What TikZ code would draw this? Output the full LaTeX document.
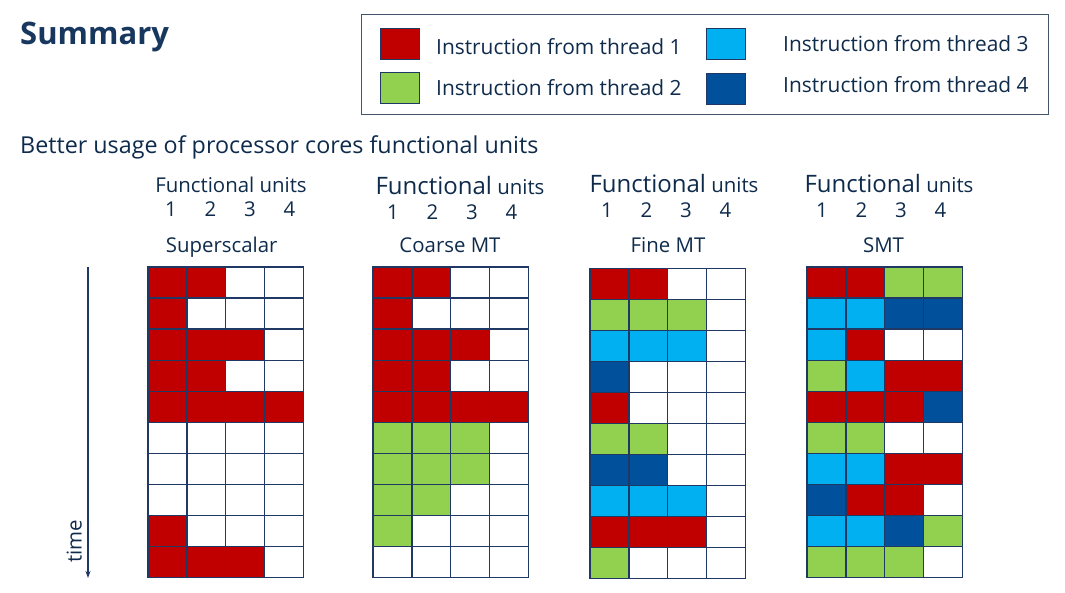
\documentclass[tikz,border=0pt]{standalone}
\usepackage{fontspec}
\setmainfont{Open Sans}
\usetikzlibrary{arrows.meta}

\definecolor{navytext}{HTML}{0F2B4C}
\definecolor{navytitle}{HTML}{17375E}
\definecolor{gridnavy}{HTML}{1F3864}
\definecolor{boxgray}{HTML}{44546A}
\definecolor{thr0}{HTML}{FFFFFF}
\definecolor{thr1}{HTML}{C00000}
\definecolor{thr2}{HTML}{92D050}
\definecolor{thr3}{HTML}{00B0F0}
\definecolor{thr4}{HTML}{00509B}

\tikzset{
  cellbox/.style={draw=gridnavy,line width=1.3pt},
  keybox/.style={draw=gridnavy,line width=1pt,minimum width=39pt,minimum height=31pt,inner sep=0pt},
  keytext/.style={anchor=base west,inner sep=0pt,text=navytext,font=\fontsize{20.9}{25}\selectfont},
  unittext/.style={anchor=base,inner sep=0pt,text=navytext,font=\fontsize{20.4}{24}\selectfont},
}

% one panel of functional units, rows from top to bottom (0 = idle)
\newcommand{\unitgrid}[3]{%
  \begin{scope}[shift={(#1,#2)}]
    \foreach \rowvals [count=\rw from 0] in {#3} {
      \foreach \v [count=\cl from 0] in \rowvals {
        \filldraw[cellbox,fill=thr\v] (\cl*38.9,\rw*31.05) rectangle ++(38.9,31.05);
      }
    }
  \end{scope}}

\begin{document}
\begin{tikzpicture}[x=1pt,y=-1pt]
\useasboundingbox (0,0) rectangle (1065,593);

\node[anchor=base west,inner sep=0pt,text=navytitle,font=\fontsize{31}{36}\selectfont\bfseries] (title) at (20,45) {Summary};
\node[anchor=base west,inner sep=0pt,text=navytext,font=\fontsize{23.3}{27}\selectfont] (intro) at (20,154) {Better usage of processor cores functional units};

% legend
\node[draw=boxgray,line width=1pt,minimum width=687pt,minimum height=100pt,inner sep=0pt] (legend) at (704.5,65) {};
\node[keybox,fill=thr1] (key1) at (399.5,44.5) {};
\node[keybox,fill=thr2] (key2) at (399.5,88) {};
\node[keybox,fill=thr3] (key3) at (726,44.5) {};
\node[keybox,fill=thr4] (key4) at (726,89) {};
\node[keytext] (keyt1) at (436,54.3) {Instruction from thread 1};
\node[keytext] (keyt2) at (436,96) {Instruction from thread 2};
\node[keytext] (keyt3) at (783,51.7) {Instruction from thread 3};
\node[keytext] (keyt4) at (783,92.3) {Instruction from thread 4};

% time axis
\coordinate (tstart) at (88,267);
\coordinate (tend) at (88,578);
\draw[gridnavy,line width=1.2pt,-{Stealth[length=7pt,width=5pt]}] (tstart) -- (tend);
\node[unittext,anchor=base west,rotate=90] (time) at (81.5,563) {time};

% headers
\node[unittext] (ssfu) at (231,192.7) {Functional units};
\node[unittext] (cmfu) at (460,195) {{\fontsize{24}{28}\selectfont Functional} units};
\node[unittext] (fmfu) at (674,192.7) {{\fontsize{24}{28}\selectfont Functional} units};
\node[unittext] (smfu) at (889,192.7) {{\fontsize{24}{28}\selectfont Functional} units};
\foreach \i in {1,...,4} {
  \node[unittext] (ssn\i) at (171+39.5*\i-39.5,216.7) {\i};
  \node[unittext] (cmn\i) at (393+39.5*\i-39.5,220) {\i};
  \node[unittext] (fmn\i) at (607+39.5*\i-39.5,217.7) {\i};
  \node[unittext] (smn\i) at (822+39.5*\i-39.5,217.7) {\i};
}
\node[unittext] (sslab) at (221.7,252.5) {Superscalar};
\node[unittext] (cmlab) at (450,252.5) {Coarse MT};
\node[unittext] (fmlab) at (668,252.5) {Fine MT};
\node[unittext] (smlab) at (883.5,252.5) {SMT};

% panels
\unitgrid{148}{267}{{1,1,0,0},{1,0,0,0},{1,1,1,0},{1,1,0,0},{1,1,1,1},{0,0,0,0},{0,0,0,0},{0,0,0,0},{1,0,0,0},{1,1,1,0}}
\unitgrid{373}{267}{{1,1,0,0},{1,0,0,0},{1,1,1,0},{1,1,0,0},{1,1,1,1},{2,2,2,0},{2,2,2,0},{2,2,0,0},{2,0,0,0},{0,0,0,0}}
\unitgrid{590}{268.3}{{1,1,0,0},{2,2,2,0},{3,3,3,0},{4,0,0,0},{1,0,0,0},{2,2,0,0},{4,4,0,0},{3,3,3,0},{1,1,1,0},{2,0,0,0}}
\unitgrid{807}{267}{{1,1,2,2},{3,3,4,4},{3,1,0,0},{2,3,1,1},{1,1,1,4},{2,2,0,0},{3,3,1,1},{4,1,1,0},{3,3,4,2},{2,2,2,0}}
\end{tikzpicture}
\end{document}
